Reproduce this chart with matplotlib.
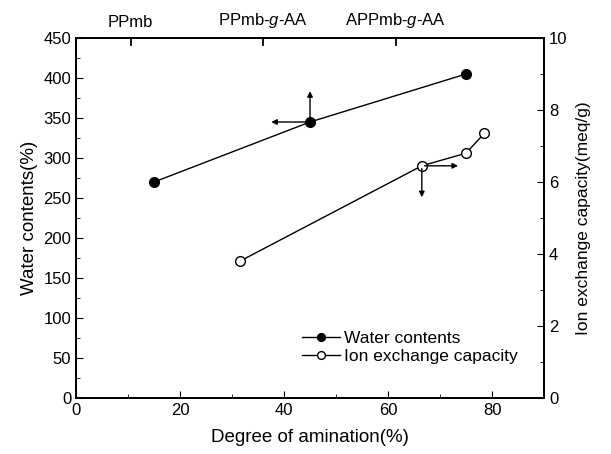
import numpy as np
import matplotlib as mpl
mpl.use('Agg')
import matplotlib.pyplot as plt

plt.rcParams.update({
    "font.family": ["Liberation Sans", "DejaVu Sans"],
    "mathtext.fontset": "custom",
    "mathtext.it": "Liberation Sans:italic",
    "mathtext.rm": "Liberation Sans",
    "font.size": 12,
})

# data
amination_w = [15, 45, 75]
water = [270, 345, 405]
amination_i = [31.5, 66.5, 75, 78.5]
iec = [3.8, 6.45, 6.8, 7.35]

top_pos = [10.5, 36, 61.5]
top_labels = ["PPmb", "PPmb-$\\it{g}$-AA", "APPmb-$\\it{g}$-AA"]

fig = plt.figure(figsize=(6.11, 4.54), dpi=100)
ax = fig.add_axes([0.1244, 0.1233, 0.7660, 0.7930])
ax2 = ax.twinx()
ax3 = ax.twiny()

l1, = ax.plot(amination_w, water, '-o', color='black', lw=1, ms=7,
              mfc='black', label='Water contents')
l2, = ax2.plot(amination_i, iec, '-o', color='black', lw=1, ms=7,
               mfc='white', label='Ion exchange capacity')

ax.set_xlim(0, 90)
ax.set_ylim(0, 450)
ax2.set_ylim(0, 10)
ax3.set_xlim(0, 90)
ax.set_xticks([0, 20, 40, 60, 80])
ax.set_xticks([10, 30, 50, 70], minor=True)
ax.set_yticks(np.arange(0, 451, 50))
ax.set_yticks(np.arange(25, 450, 50), minor=True)
ax2.set_yticks([0, 2, 4, 6, 8, 10])
ax2.set_yticks([1, 3, 5, 7, 9], minor=True)
ax3.set_xticks(top_pos)
ax3.set_xticklabels(top_labels)

ax.tick_params(which='both', direction='in', top=False, labelsize=12)
ax.tick_params(which='major', length=5)
ax.tick_params(which='minor', length=3)
ax2.tick_params(which='both', direction='in', labelsize=12)
ax2.tick_params(which='major', length=5)
ax2.tick_params(which='minor', length=3)
ax3.tick_params(axis='x', length=0, labelsize=12, pad=6)

# inward top ticks under the sample labels
for p in top_pos:
    ax.axvline(p, ymin=1 - 7 / 360, ymax=1, color='black', lw=1.3)

ax.set_xlabel("Degree of amination(%)", fontsize=13.5, labelpad=8)
ax.set_ylabel("Water contents(%)", fontsize=13.5)
ax2.set_ylabel("Ion exchange capacity(meq/g)", fontsize=12.5, labelpad=6)

arr = dict(arrowstyle='-|>', lw=1, color='black', mutation_scale=8)
ax.annotate('', xy=(45, 387), xytext=(45, 345), arrowprops=arr)
ax.annotate('', xy=(37, 345), xytext=(45, 345), arrowprops=arr)
ax2.annotate('', xy=(66.5, 5.5), xytext=(66.5, 6.45), arrowprops=arr)
ax2.annotate('', xy=(74, 6.45), xytext=(66.5, 6.45), arrowprops=arr)

ax.legend(handles=[l1, l2], loc='lower left', bbox_to_anchor=(0.45, 0.05),
          frameon=False, handlelength=2.2, handletextpad=0.2,
          labelspacing=0.2, fontsize=12.5, markerscale=0.8)

for a in (ax, ax2, ax3):
    for s in a.spines.values():
        s.set_linewidth(1.2)

plt.savefig("out.png", dpi=100)
